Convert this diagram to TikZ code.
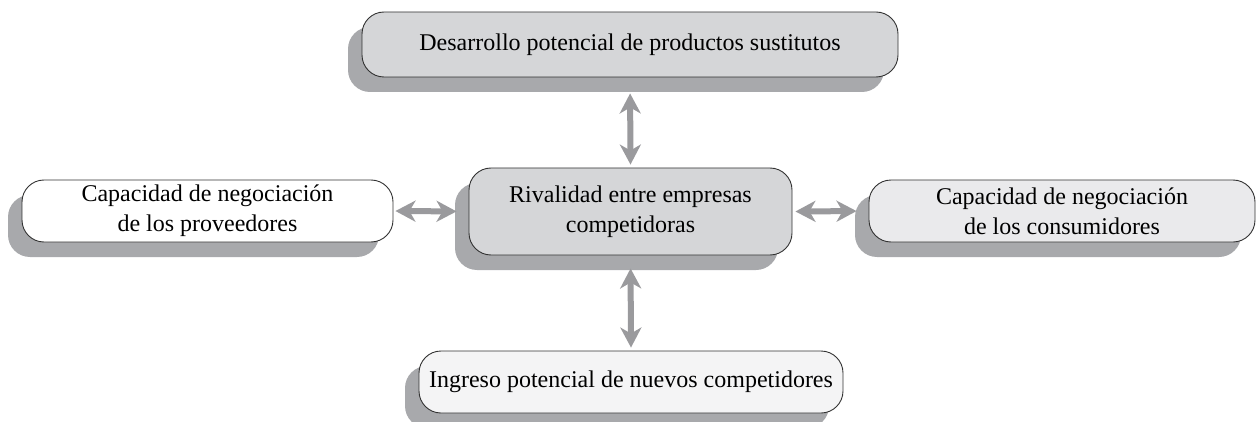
\documentclass[tikz,border=0pt]{standalone}
\usepackage{fontspec}
\setmainfont{Liberation Serif}
\usetikzlibrary{arrows.meta,shadows}
\definecolor{shadowgray}{HTML}{A8A9AC}
\definecolor{arrowgray}{HTML}{9A9A9D}
\definecolor{fillA}{HTML}{D5D6D8}
\definecolor{fillB}{HTML}{EAEAEC}
\definecolor{fillC}{HTML}{F4F4F5}
\definecolor{edgegray}{HTML}{333333}
\tikzset{
  box/.style={draw=edgegray, line width=0.9pt, rounded corners=22pt, align=center,
    inner sep=0pt, font=\fontsize{24}{30}\selectfont,
    drop shadow={shadow xshift=-14pt, shadow yshift=-15pt, opacity=1, fill=shadowgray}},
  dblarrow/.style={draw=arrowgray, line width=6pt,
    {Stealth[length=20pt,width=21pt,inset=6pt]}-{Stealth[length=20pt,width=21pt,inset=6pt]}}
}
\begin{document}
\begin{tikzpicture}[x=1pt,y=-1pt]
\useasboundingbox (0,0) rectangle (1257,422);
\node[box, fill=fillA, minimum width=536pt, minimum height=65pt] (top) at (630,44.5)
  {Desarrollo potencial de productos sustitutos};
\node[box, fill=white, minimum width=371pt, minimum height=62pt] (left) at (207.5,211)
  {Capacidad de negociación\\de los proveedores};
\node[box, fill=fillA, minimum width=323pt, minimum height=87pt] (center) at (630.5,211.5)
  {Rivalidad entre empresas\\competidoras};
\node[box, fill=fillB, minimum width=386pt, minimum height=62pt] (right) at (1062,211)
  {Capacidad de negociación\\de los consumidores};
\node[box, fill=fillC, minimum width=424pt, minimum height=62pt] (bottom) at (631,382)
  {Ingreso potencial de nuevos competidores};
\draw[dblarrow, shorten <=16pt, shorten >=3pt] (top.south) -- (center.north);
\draw[dblarrow, shorten <=13pt, shorten >=3pt] (center.south) -- (bottom.north);
\draw[dblarrow, shorten <=2pt, shorten >=12pt] (left.east) -- (center.west);
\draw[dblarrow, shorten <=3pt, shorten >=12pt] (center.east) -- (right.west);
\end{tikzpicture}
\end{document}
